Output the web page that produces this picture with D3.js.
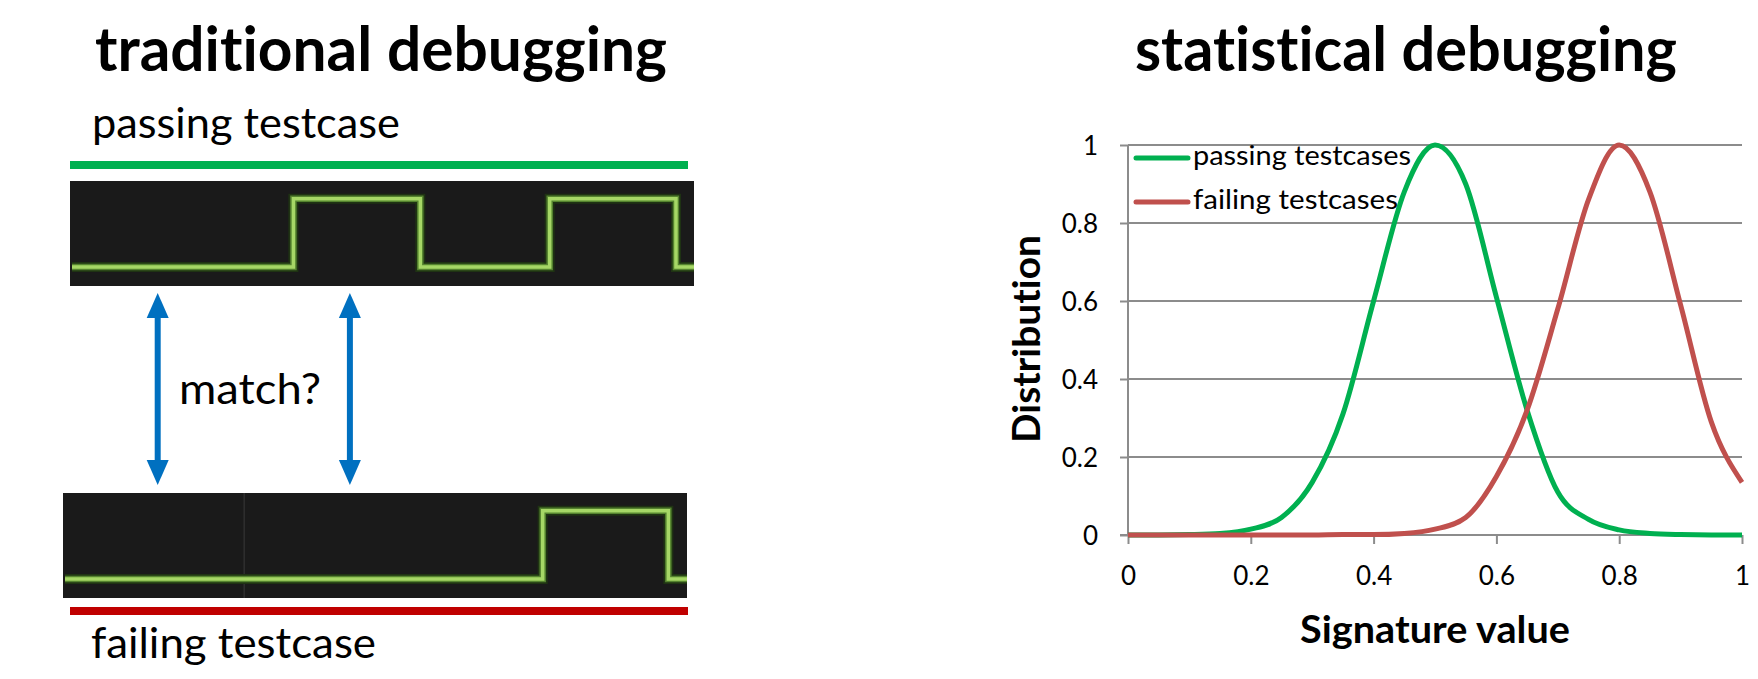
<!DOCTYPE html>
<html>
<head>
<meta charset="utf-8">
<script src="https://cdn.jsdelivr.net/npm/d3@7"></script>
<style>
  html, body { margin: 0; padding: 0; background: #ffffff; }
  svg { display: block; font-family: Lato, "Open Sans", sans-serif; font-variant-ligatures: none; font-feature-settings: "liga" 0, "clig" 0; }
</style>
</head>
<body>
<svg id="chart" width="1758" height="679"></svg>
<script>
// ---------------- data ----------------
const signatureValues = [0, 0.05, 0.1, 0.15, 0.2, 0.25, 0.3, 0.35, 0.4, 0.45, 0.5,
                         0.55, 0.6, 0.65, 0.7, 0.75, 0.8, 0.85, 0.9, 0.95, 1];
const passingDist = [0, 0, 0.001, 0.004, 0.015, 0.045, 0.135, 0.31, 0.6, 0.88, 1,
                     0.9, 0.61, 0.32, 0.11, 0.04, 0.013, 0.004, 0.001, 0, 0];
const failingDist = [0, 0, 0, 0, 0, 0, 0, 0.001, 0.001, 0.004, 0.015,
                     0.045, 0.15, 0.32, 0.58, 0.86, 1, 0.88, 0.59, 0.29, 0.135];
const seriesNames = ["passing testcases", "failing testcases"];
const xTicks = [0, 0.2, 0.4, 0.6, 0.8, 1];
const yTicks = [0, 0.2, 0.4, 0.6, 0.8, 1];
const xTickLabels = ["0", "0.2", "0.4", "0.6", "0.8", "1"];
const yTickLabels = ["0", "0.2", "0.4", "0.6", "0.8", "1"];

// square-wave traces (time in % of trace window, level 0 = low, 1 = high)
const passingWaveT = [0, 35.6, 56.0, 76.8, 97.1, 100];
const passingWaveV = [0, 1, 0, 1, 0, 0];
const failingWaveT = [0, 76.8, 97.0, 100];
const failingWaveV = [0, 1, 0, 0];
const failingMarkerT = [28.8];          // faint vertical line in failing trace
const arrowT = [14.1, 45.0];            // positions of the "match?" arrows

const titles = ["traditional debugging", "statistical debugging"];
const traceLabels = ["passing testcase", "failing testcase"];
const matchLabel = "match?";
const xAxisTitle = "Signature value";
const yAxisTitle = "Distribution";

// ---------------- drawing ----------------
const svg = d3.select("#chart");
const GREEN = "#00b050", RED = "#c0504d", BLUE = "#0070c0";

function txt(x, y, s, size, weight, width, anchor) {
  const t = svg.append("text").attr("x", x).attr("y", y).text(s)
    .attr("font-size", size).attr("font-weight", weight).attr("fill", "#000")
    .attr("text-anchor", anchor || "start");
  if (width) t.attr("textLength", width).attr("lengthAdjust", "spacingAndGlyphs");
  return t;
}

// ---- left panel ----
txt(95, 71, titles[0], 62, 700, 572);
txt(92, 138, traceLabels[0], 42, 400, 308);
svg.append("rect").attr("x", 70).attr("y", 161).attr("width", 618).attr("height", 8).attr("fill", GREEN);

function drawTrace(x0, x1, y0, y1, T, V, markers) {
  svg.append("rect").attr("x", x0).attr("y", y0).attr("width", x1 - x0).attr("height", y1 - y0)
    .attr("fill", "#1a1a1a");
  const xs = d3.scaleLinear().domain([0, 100]).range([x0 + 2, x1]);
  const ys = d3.scaleLinear().domain([0, 1]).range([y0 + (y1 - y0) * 0.82, y0 + (y1 - y0) * 0.17]);
  (markers || []).forEach(m => {
    svg.append("line").attr("x1", xs(m)).attr("x2", xs(m)).attr("y1", y0).attr("y2", y1)
      .attr("stroke", "#3a3a3a").attr("stroke-width", 1);
  });
  const pts = T.map((t, i) => [t, V[i]]);
  const line = d3.line().x(d => xs(d[0])).y(d => ys(d[1])).curve(d3.curveStepAfter);
  const g = svg.append("g");
  g.append("path").attr("d", line(pts)).attr("fill", "none").attr("stroke", "#1f3313").attr("stroke-width", 10);
  g.append("path").attr("d", line(pts)).attr("fill", "none").attr("stroke", "#55842f").attr("stroke-width", 6.5);
  g.append("path").attr("d", line(pts)).attr("fill", "none").attr("stroke", "#a6d766").attr("stroke-width", 3.5);
  return xs;
}
const xsPass = drawTrace(70, 694, 181, 286, passingWaveT, passingWaveV);
drawTrace(63, 687, 493, 598, failingWaveT, failingWaveV, failingMarkerT);

// arrows
const arrowTop = 293, arrowBot = 485, headL = 25, headW = 22;
arrowT.forEach(t => {
  const x = xsPass(t) - 2;
  svg.append("line").attr("x1", x).attr("x2", x).attr("y1", arrowTop + headL - 2).attr("y2", arrowBot - headL + 2)
    .attr("stroke", BLUE).attr("stroke-width", 6);
  svg.append("path").attr("d", `M${x},${arrowTop} L${x - headW / 2},${arrowTop + headL} L${x + headW / 2},${arrowTop + headL} Z`).attr("fill", BLUE);
  svg.append("path").attr("d", `M${x},${arrowBot} L${x - headW / 2},${arrowBot - headL} L${x + headW / 2},${arrowBot - headL} Z`).attr("fill", BLUE);
});
txt(179, 404, matchLabel, 42, 400, 142);

svg.append("rect").attr("x", 70).attr("y", 607).attr("width", 618).attr("height", 8).attr("fill", "#c00000");
txt(91, 658, traceLabels[1], 42, 400, 285);

// ---- right panel ----
txt(1135, 71, titles[1], 62, 700, 542);

const x = d3.scaleLinear().domain([0, 1]).range([1128, 1742]);
const y = d3.scaleLinear().domain([0, 1]).range([535, 145]);
const plot = svg.append("g");

// gridlines
plot.selectAll("line.grid").data(yTicks.filter(d => d > 0)).enter().append("line")
  .attr("x1", x(0)).attr("x2", x(1)).attr("y1", d => y(d)).attr("y2", d => y(d))
  .attr("stroke", "#8c8c8c").attr("stroke-width", 2);

// y axis
const yAxis = d3.axisLeft(y).tickValues(yTicks).tickSize(8).tickFormat((d, i) => yTickLabels[i]);
const gy = plot.append("g").attr("transform", `translate(${x(0)},0)`).call(yAxis);
gy.select(".domain").attr("stroke", "#8c8c8c").attr("stroke-width", 2).attr("d", `M0,${y(1)}V${y(0)}`);
gy.selectAll(".tick line").attr("stroke", "#8c8c8c").attr("stroke-width", 2);
gy.selectAll(".tick text").attr("font-size", 26).attr("font-family", "Lato").attr("fill", "#000")
  .attr("x", -30).attr("dy", "0.36em");

// x axis
const xAxis = d3.axisBottom(x).tickValues(xTicks).tickSize(9).tickFormat((d, i) => xTickLabels[i]);
const gx = plot.append("g").attr("transform", `translate(0,${y(0)})`).call(xAxis);
gx.select(".domain").attr("stroke", "#8c8c8c").attr("stroke-width", 2).attr("d", `M${x(0) - 8},0H${x(1)}`);
gx.selectAll(".tick line").attr("stroke", "#8c8c8c").attr("stroke-width", 2);
gx.selectAll(".tick text").attr("font-size", 26).attr("font-family", "Lato").attr("fill", "#000")
  .attr("y", 50).attr("dy", 0);

// curves
const series = [
  { name: seriesNames[0], vals: passingDist, color: GREEN },
  { name: seriesNames[1], vals: failingDist, color: RED }
];
const curve = d3.line().x(d => x(d[0])).y(d => y(d[1])).curve(d3.curveMonotoneX);
series.forEach(s => {
  plot.append("path").attr("d", curve(signatureValues.map((v, i) => [v, s.vals[i]])))
    .attr("fill", "none").attr("stroke", s.color).attr("stroke-width", 5)
    .attr("stroke-linejoin", "round");
});

// legend
const legendY = [158, 202];
const legendW = [218, 205];
series.forEach((s, i) => {
  plot.append("line").attr("x1", 1136).attr("x2", 1188).attr("y1", legendY[i]).attr("y2", legendY[i])
    .attr("stroke", s.color).attr("stroke-width", 5).attr("stroke-linecap", "round");
  txt(1193, legendY[i] + 7, s.name, 27, 400, legendW[i]);
});

// axis titles
txt(1435, 643, xAxisTitle, 38, 700, 270, "middle");
svg.append("text").attr("transform", "translate(1040,339) rotate(-90)")
  .attr("text-anchor", "middle").attr("font-size", 38).attr("font-weight", 700)
  .attr("textLength", 208).attr("lengthAdjust", "spacingAndGlyphs").text(yAxisTitle);
</script>
</body>
</html>
